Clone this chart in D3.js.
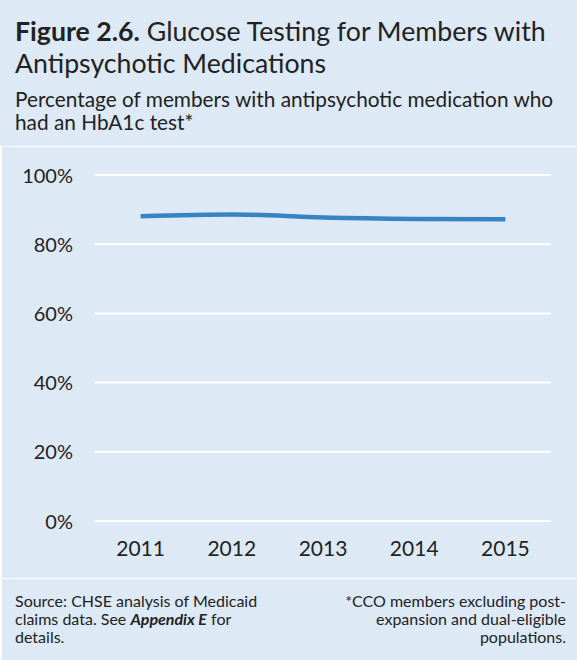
<!DOCTYPE html>
<html>
<head>
<meta charset="utf-8">
<script src="https://cdn.jsdelivr.net/npm/d3@7"></script>
<style>
  html, body { margin: 0; padding: 0; background: #ffffff; }
  svg { display: block; font-family: Lato, "Open Sans", sans-serif; }
</style>
</head>
<body>
<script>
const years = ["2011", "2012", "2013", "2014", "2015"];
const hba1cRates = [88.1, 88.6, 87.7, 87.3, 87.2];
const yTicks = [0, 20, 40, 60, 80, 100];

const W = 577, H = 662;
const svg = d3.select("body").append("svg").attr("width", W).attr("height", H);

const bg = "#ddeaf6";
svg.append("rect").attr("x", 0).attr("y", 0).attr("width", W).attr("height", 146).attr("fill", bg);
svg.append("rect").attr("x", 2).attr("y", 147).attr("width", W - 2).attr("height", 431).attr("fill", bg);
svg.append("rect").attr("x", 2).attr("y", 579).attr("width", W - 2).attr("height", 81).attr("fill", bg);

// Title
const title = svg.append("text").attr("x", 15).attr("y", 41)
  .attr("font-size", 26.7).attr("fill", "#222");
title.append("tspan").attr("font-weight", "bold").text("Figure 2.6.");
title.append("tspan").text(" Glucose Testing for Members with");
svg.append("text").attr("x", 15).attr("y", 73).attr("font-size", 26.7).attr("fill", "#222")
  .text("Antipsychotic Medications");

// Subtitle
svg.append("text").attr("x", 15).attr("y", 107).attr("font-size", 20.8).attr("fill", "#222")
  .text("Percentage of members with antipsychotic medication who");
svg.append("text").attr("x", 15).attr("y", 130).attr("font-size", 20.8).attr("fill", "#222")
  .text("had an HbA1c test*");

// Scales
const x = d3.scaleBand().domain(years).range([95, 551]);
const y = d3.scaleLinear().domain([0, 100]).range([521, 175]);

// Gridlines
svg.append("g").selectAll("line").data(yTicks).join("line")
  .attr("x1", 95).attr("x2", 551)
  .attr("y1", d => y(d)).attr("y2", d => y(d))
  .attr("stroke", "#ffffff").attr("stroke-width", 2);

// Y axis
const yAxis = svg.append("g").attr("transform", "translate(73,0)")
  .call(d3.axisLeft(y).tickValues(yTicks).tickSize(0).tickPadding(0).tickFormat(d => d + "%"));
yAxis.select(".domain").remove();
yAxis.selectAll("text").attr("font-size", 20).attr("fill", "#222")
  .attr("font-family", "Lato, sans-serif").attr("dy", "0.35em");

// X axis
const xAxis = svg.append("g").attr("transform", "translate(0,537)")
  .call(d3.axisBottom(x).tickSize(0).tickPadding(0));
xAxis.select(".domain").remove();
xAxis.selectAll("text").attr("font-size", 21).attr("fill", "#222")
  .attr("font-family", "Lato, sans-serif").attr("dy", "0.92em");

// Line
const line = d3.line()
  .x((d, i) => x(years[i]) + x.bandwidth() / 2)
  .y(d => y(d))
  .curve(d3.curveMonotoneX);
svg.append("path").datum(hba1cRates)
  .attr("d", line).attr("fill", "none")
  .attr("stroke", "#3784c2").attr("stroke-width", 4.5);

// Footer
const fs = 16;
const left = svg.append("g").attr("font-size", fs).attr("fill", "#222");
left.append("text").attr("x", 15).attr("y", 607).text("Source: CHSE analysis of Medicaid");
const l2 = left.append("text").attr("x", 15).attr("y", 625);
l2.append("tspan").text("claims data. See ");
l2.append("tspan").attr("font-weight", "bold").attr("font-style", "italic").text("Appendix E");
l2.append("tspan").text(" for");
left.append("text").attr("x", 15).attr("y", 643).text("details.");

const right = svg.append("g").attr("font-size", fs).attr("fill", "#222").attr("text-anchor", "end");
right.append("text").attr("x", 566).attr("y", 607).text("*CCO members excluding post-");
right.append("text").attr("x", 566).attr("y", 625).text("expansion and dual-eligible");
right.append("text").attr("x", 566).attr("y", 643).text("populations.");
</script>
</body>
</html>
